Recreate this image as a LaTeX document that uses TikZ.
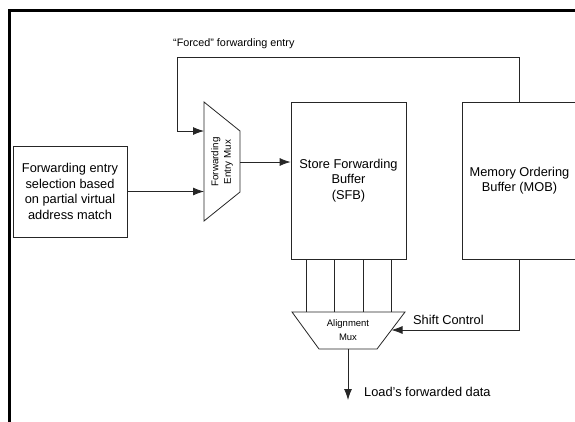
\documentclass[tikz,border=0pt]{standalone}
\usepackage{fontspec}
\setmainfont{Liberation Sans}
\usetikzlibrary{arrows.meta}
\begin{document}
\begin{tikzpicture}[x=1pt,y=-1pt,
  line/.style={draw=black!85, line width=0.8pt},
  arr/.style={line, -{Latex[length=11pt,width=8pt]}},
  lbl/.style={font=\fontsize{12.8}{15.5}\selectfont, align=center, inner sep=0pt},
  small/.style={font=\fontsize{9.8}{12.5}\selectfont, align=center, inner sep=0pt},
  box/.style={draw=black!85, line width=0.8pt, inner sep=0pt},
]
\useasboundingbox (0,0) rectangle (575,421);
\clip (0,0) rectangle (575,421);
\draw[line width=3pt] (9,430) -- (9,10) -- (580,10);

% blocks
\node[box, lbl, minimum width=114pt, minimum height=91pt] (sel) at (70,191.5)
  {Forwarding entry\\selection based\\on partial virtual\\address match};
\node[box, lbl, minimum width=115pt, minimum height=157pt] (sfb) at (348.5,180.5)
  {Store Forwarding\\Buffer\\(SFB)};
\node[box, lbl, minimum width=115pt, minimum height=157pt] (mob) at (519.5,180.5)
  {Memory Ordering\\Buffer (MOB)};

% forwarding entry mux
\coordinate (m1) at (204,102);
\coordinate (m2) at (240,131);
\coordinate (m3) at (240,192);
\coordinate (m4) at (204,221);
\draw[line] (m1) -- (m2) -- (m3) -- (m4) -- cycle;
\node[small, rotate=90] (fmux) at (222,162) {Forwarding\\Entry Mux};

% alignment mux
\coordinate (a1) at (292,312);
\coordinate (a2) at (405,312);
\coordinate (a3) at (377,349);
\coordinate (a4) at (319,349);
\draw[line] (a1) -- (a2) -- (a3) -- (a4) -- cycle;
\node[small, font=\fontsize{9.5}{14}\selectfont] (amux) at (348,330) {Alignment\\Mux};

% connectors
\coordinate (lc) at (177,57);
\coordinate (fin) at (204,131);
\draw[arr] (mob.north) |- (lc) |- (fin);
\draw[arr] (sel.east) -- (sel.east -| m1);
\coordinate (mout) at (240,162);
\draw[arr] (mout) -- (mout -| sfb.west);
\foreach \x in {306,334,363,391}
  \draw[line] (sfb.south -| \x,0) -- (\x,0 |- a1);
\coordinate (sc) at (391.5,330);
\draw[arr] (mob.south) |- (sc);
\coordinate (ab) at (348,349);
\coordinate (out) at (348,400);
\draw[arr] (ab) -- (out);

% labels
\node[lbl, font=\fontsize{10.8}{13}\selectfont, anchor=west] (tforced) at (173,44) {“Forced” forwarding entry};
\node[lbl, anchor=west] (tshift) at (413,320) {Shift Control};
\node[lbl, anchor=west] (tload) at (364,392) {Load’s forwarded data};
\end{tikzpicture}
\end{document}
